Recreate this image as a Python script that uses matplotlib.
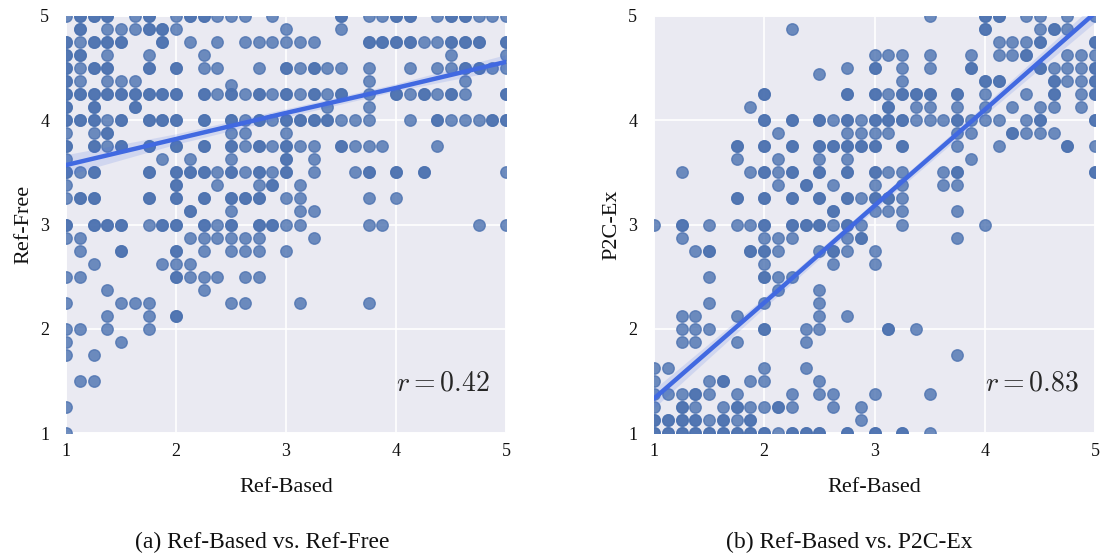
import matplotlib
matplotlib.use("Agg")
import matplotlib.pyplot as plt
import numpy as np
import seaborn as sns

# rating levels on the y axis, with the x ratings seen once / several times at that level
free_levels = [5.0, 4.875, 4.75, 4.625, 4.5, 4.375, 4.34, 4.25, 4.125, 4.0, 3.875, 3.75, 3.625, 3.5, 3.375,
               3.25, 3.125, 3.0, 2.875, 2.75, 2.625, 2.5, 2.375, 2.25, 2.125, 2.0, 1.875, 1.75, 1.5, 1.25, 1.0]
free_once = [
    [1, 1.625, 2, 2.375, 2.5, 2.625, 2.875, 3.75, 3.875, 4.375, 4.75, 4.875, 5],
    [1.375, 1.5, 1.625, 2, 3, 3.5],
    [1.125, 2.125, 2.375, 2.625, 2.75, 2.875, 3, 3.125, 3.25, 4.25, 4.375],
    [1.375, 1.75, 2.25, 4.5, 5],
    [1.125, 2.25, 2.375, 2.75, 3.125, 3.375, 3.5, 3.75, 4.125, 4.375, 4.5, 4.875, 5],
    [1.125, 1.375, 1.5, 1.625, 3.75, 4.625],
    [2.5],
    [2.375, 2.625, 2.875, 3.125, 3.375, 3.75, 4.125, 4.375, 4.625],
    [3.375, 3.75],
    [1.375, 2.625, 2.875, 3.5, 3.625, 3.75, 4.125, 4.5, 4.625, 4.75],
    [1, 1.25, 2.5, 2.625, 3],
    [1.375, 2.625, 2.875, 3.125, 3.25, 3.625, 3.75, 3.875, 4.375],
    [1, 1.875, 2.125, 2.5, 3.25],
    [1.125, 2.375, 2.625, 2.875, 3.25, 3.625, 5],
    [1, 2.375, 2.75, 3.125],
    [1, 3, 3.125, 3.75, 4],
    [2.5, 3.125, 3.25],
    [1.75, 2.375, 3, 3.125, 3.75, 3.875, 4.75, 5],
    [1, 1.125, 2.125, 2.25, 2.375, 2.5, 2.625, 2.75, 3.25],
    [1.125, 2.25, 2.5, 2.625, 2.75, 3],
    [1.25, 1.875, 2, 2.125],
    [1, 1.125, 2.125, 2.25, 2.375, 2.625, 2.75],
    [1.375, 2.25],
    [1, 1.5, 1.625, 1.75, 2.5, 2.625, 3.125, 3.75],
    [1.375, 1.75],
    [1, 1.125, 1.375, 1.75],
    [1, 1.5],
    [1, 1.25],
    [1.125, 1.25],
    [1],
    [1],
]
free_many = [
    [1.125, 1.25, 1.375, 1.75, 2.125, 2.25, 3.5, 4, 4.125, 4.5, 4.625],
    [1.125, 1.75, 1.875],
    [1, 1.25, 1.375, 1.5, 1.875, 3.75, 3.875, 4, 4.125, 4.5, 4.625, 4.75, 5],
    [1, 1.125],
    [1, 1.25, 1.375, 1.75, 2, 3, 3.25, 4.625, 4.75],
    [1],
    [],
    [1, 1.125, 1.25, 1.375, 1.5, 1.625, 1.75, 1.875, 2, 2.25, 2.5, 2.75, 3, 3.25, 3.5, 4, 4.25, 4.5, 5],
    [1, 1.25, 1.625],
    [1, 1.125, 1.25, 1.5, 1.75, 1.875, 2, 2.25, 2.5, 2.75, 3, 3.125, 3.25, 3.375, 4.375, 4.875, 5],
    [1.375],
    [1, 1.25, 1.5, 1.75, 2, 2.25, 2.5, 2.75, 3, 3.5],
    [3],
    [1, 1.25, 1.75, 2, 2.125, 2.25, 2.5, 2.75, 3, 3.75, 4, 4.25],
    [2, 2.875],
    [1.125, 1.25, 1.75, 2, 2.25, 2.5, 2.625, 2.75],
    [2.125],
    [1, 1.25, 1.375, 1.5, 1.875, 2, 2.25, 2.5, 2.75, 2.875],
    [],
    [1.5, 2],
    [],
    [2],
    [],
    [],
    [2],
    [],
    [],
    [],
    [],
    [],
    [],
]

p2c_levels = [5.0, 4.875, 4.75, 4.625, 4.5, 4.44, 4.375, 4.25, 4.125, 4.0, 3.875, 3.75, 3.625, 3.5, 3.375, 3.25,
              3.125, 3.0, 2.875, 2.75, 2.625, 2.5, 2.375, 2.25, 2.125, 2.0, 1.875, 1.75, 1.625, 1.5, 1.375, 1.25,
              1.125, 1.0]
p2c_once = [
    [3.5, 4.375, 4.5, 4.75, 5],
    [2.25, 4.5, 4.75],
    [4.125, 4.25, 4.375],
    [3, 3.125, 3.25, 3.5, 3.875, 4.125, 4.25, 4.75, 4.875, 5],
    [2.75, 3.25, 3.5, 4.625, 4.75, 4.875],
    [2.5],
    [3.25, 4.75, 4.875],
    [3.125, 4, 4.375, 4.875],
    [1.875, 3.375, 3.5, 3.75, 4, 4.25, 4.5, 4.625, 4.875],
    [2.625, 2.875, 3.375, 3.5, 3.625, 3.875, 4, 4.125, 4.375],
    [2.125, 2.75, 2.875, 3, 3.125, 3.75, 3.875, 4.375, 4.5, 4.625],
    [3.75, 4.125, 5],
    [1.75, 2.125, 2.5, 2.75, 3.875],
    [1.25, 1.875, 2.125, 3.125, 3.25, 3.625],
    [2.125, 2.625, 3, 3.25, 3.625, 3.75],
    [2.875, 3.25],
    [3, 3.125, 3.25, 3.75],
    [1, 1.5, 1.75, 1.875, 2.625, 2.875, 3.25, 4],
    [1.25, 2, 2.125, 2.25, 2.75, 3.75],
    [1.375, 2.125, 2.5, 2.75, 3],
    [2, 2.625, 3],
    [1.5, 2.125, 2.25],
    [2.125, 2.5],
    [1.5, 2, 2.5],
    [1.25, 1.375, 1.75, 2.5, 2.75],
    [1.25, 1.375, 1.5, 2.375, 2.5, 3.375],
    [1.25, 1.375, 1.75, 2.375],
    [3.75],
    [1, 1.125, 2, 2.375],
    [1, 1.5, 1.875, 2, 2.5],
    [1, 1.125, 1.25, 1.5, 1.75, 2.25, 2.5, 2.625, 3, 3.5],
    [1, 1.375, 1.625, 1.875, 2, 2.25, 2.625, 2.875],
    [1.5, 1.75, 2.875],
    [2.125, 3.5],
]
p2c_many = [
    [4, 4.125],
    [4, 4.625],
    [4.5, 5],
    [4.375],
    [3, 3.875, 4.5, 5],
    [],
    [4, 4.125, 4.625, 5],
    [2, 2.75, 3, 3.25, 3.375, 3.5, 3.75, 4.625, 5],
    [3.125],
    [2, 2.25, 2.5, 2.75, 3, 3.125, 3.25, 3.75, 4.5, 5],
    [4.25],
    [1.75, 2, 2.25, 2.5, 2.625, 2.75, 2.875, 3, 3.25, 4.75],
    [],
    [2, 2.25, 2.5, 2.75, 3, 3.75, 5],
    [2.375],
    [1.75, 2, 2.25, 2.5, 2.75, 3, 3.125],
    [2.625],
    [1.25, 2, 2.25, 2.375, 2.5, 2.75],
    [2.875],
    [1.5, 1.875, 2, 2.625],
    [],
    [2],
    [],
    [],
    [],
    [2, 3.125],
    [],
    [],
    [],
    [1.625],
    [1.375],
    [1.25, 1.75, 2.125],
    [1, 1.125, 1.25, 1.375, 1.625, 1.875],
    [1, 1.125, 1.25, 1.375, 1.5, 1.625, 1.75, 1.875, 2, 2.25, 2.375, 2.5, 2.75, 3, 3.25],
]

# regression lines and their confidence bands
fit_x = [1, 2, 3, 4, 5]
free_fit = [3.57, 3.82, 4.07, 4.31, 4.56]
free_low = [3.47, 3.77, 4.03, 4.28, 4.49]
free_high = [3.67, 3.87, 4.11, 4.35, 4.63]
p2c_fit = [1.33, 2.25, 3.18, 4.10, 5.03]
p2c_low = [1.24, 2.20, 3.14, 4.05, 4.94]
p2c_high = [1.42, 2.30, 3.22, 4.15, 5.12]

ticks = [1, 2, 3, 4, 5]
captions = ["(a) Ref-Based vs. Ref-Free", "(b) Ref-Based vs. P2C-Ex"]

sns.set_theme(style="darkgrid")
plt.rcParams["font.family"] = ["Liberation Serif", "DejaVu Serif"]
plt.rcParams["mathtext.fontset"] = "cm"


def expand(levels, once, many):
    xs, ys = [], []
    for y, a, b in zip(levels, once, many):
        xs += a + b + b  # repeated ratings stack up and look darker
        ys += [y] * (len(a) + 2 * len(b))
    return np.array(xs, dtype=float), np.array(ys, dtype=float)


def panel(ax, levels, once, many, fit, low, high, ylabel, r_text):
    xs, ys = expand(levels, once, many)
    ax.scatter(xs, ys, s=68, color="#4c72b0", alpha=0.8, linewidths=1.0, zorder=3)
    ax.fill_between(fit_x, low, high, color="#4169e1", alpha=0.15, linewidth=0, zorder=4)
    ax.plot(fit_x, fit, color="#4169e1", lw=3.2, zorder=5)
    ax.set_xlim(1, 5)
    ax.set_ylim(1, 5)
    ax.set_xticks(ticks)
    ax.set_yticks(ticks)
    ax.grid(color="white", lw=1.2)
    ax.tick_params(axis="x", labelsize=13, pad=1, labelcolor="#111111")
    ax.tick_params(axis="y", labelsize=13, pad=6, labelcolor="#111111")
    ax.set_xlabel("Ref-Based", fontsize=16, labelpad=13.5, color="#111111")
    ax.set_ylabel(ylabel, fontsize=16, labelpad=5, color="#111111")
    ax.text(4.85, 1.47, r_text, fontsize=20, ha="right", va="center", color="#262626")


fig = plt.figure(figsize=(11.07, 5.57), dpi=100)
ax1 = fig.add_axes([66 / 1107, 1 - 433 / 557, 440 / 1107, 417 / 557])
ax2 = fig.add_axes([654 / 1107, 1 - 433 / 557, 441 / 1107, 417 / 557])
panel(ax1, free_levels, free_once, free_many, free_fit, free_low, free_high, "Ref-Free", "$r=0.42$")
panel(ax2, p2c_levels, p2c_once, p2c_many, p2c_fit, p2c_low, p2c_high, "P2C-Ex", "$r=0.83$")

fig.text(262 / 1107, 1 - 542 / 557, captions[0], fontsize=17, ha="center", va="center", color="#111111")
fig.text(849 / 1107, 1 - 542 / 557, captions[1], fontsize=17, ha="center", va="center", color="#111111")

fig.savefig("out.png", dpi=100)
